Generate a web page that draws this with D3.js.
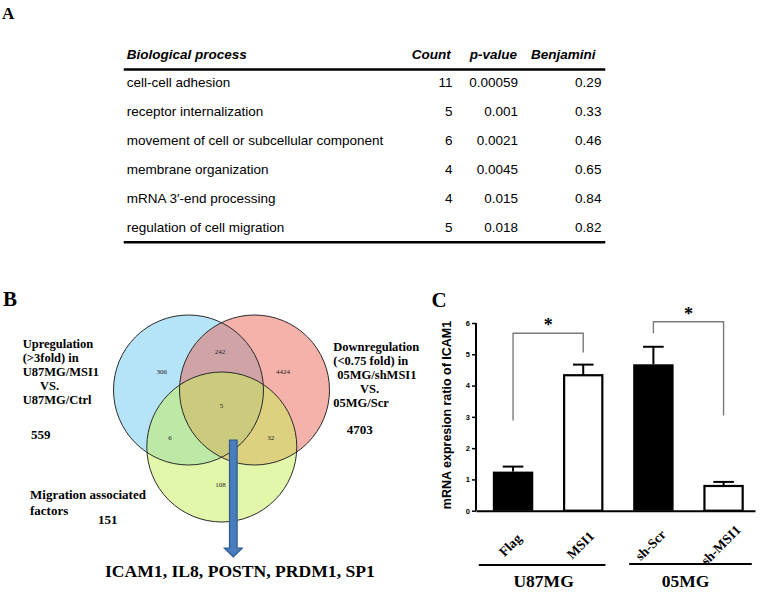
<!DOCTYPE html>
<html><head><meta charset="utf-8">
<script src="https://cdn.jsdelivr.net/npm/d3@7"></script>
<style>body{margin:0;background:#fff}svg{display:block}</style>
</head><body>
<script>
// ---------- Panel A data ----------
const tableHeaders = ["Biological process", "Count", "p-value", "Benjamini"];
const goTerms = ["cell-cell adhesion", "receptor internalization", "movement of cell or subcellular component",
                 "membrane organization", "mRNA 3\u2032-end processing", "regulation of cell migration"];
const goCounts = [11, 5, 6, 4, 4, 5];
const goPValues = ["0.00059", "0.001", "0.0021", "0.0045", "0.015", "0.018"];
const goBenjamini = ["0.29", "0.33", "0.46", "0.65", "0.84", "0.82"];

// ---------- Panel B data ----------
const vennSetNames = ["up", "down", "migration"];
const vennSetTotals = [559, 4703, 151];
const vennRegions = ["up", "up&down", "down", "all", "up&migration", "down&migration", "migration"];
const vennRegionCounts = [306, 242, 4424, 5, 6, 32, 108];
const overlapGenes = ["ICAM1", "IL8", "POSTN", "PRDM1", "SP1"];

// ---------- Panel C data ----------
const barCategories = ["Flag", "MSI1", "sh-Scr", "sh-MSI1"];
const barValues = [1.25, 4.33, 4.68, 0.79];
const barErrors = [0.16, 0.34, 0.56, 0.13];
const barFilled = [true, false, true, false];
const cellLines = ["U87MG", "05MG"];
const cellLineMembers = [["Flag", "MSI1"], ["sh-Scr", "sh-MSI1"]];
const yTicks = [0, 1, 2, 3, 4, 5, 6];
// significance brackets: [from, to], top value, left-leg bottom, right-leg bottom
const sigPairs = [["Flag", "MSI1"], ["sh-Scr", "sh-MSI1"]];
const sigTop = [5.67, 6.04];
const sigLeftEnd = [2.88, 5.67];
const sigRightEnd = [5.06, 3.04];

const W = 762, H = 592;
const serif = "'Liberation Serif','Times New Roman',serif";
const sans = "'Liberation Sans',Arial,sans-serif";

const svg = d3.select("body").append("svg").attr("width", W).attr("height", H);
svg.append("rect").attr("width", W).attr("height", H).attr("fill", "#fff");

function label(t, x, y, size, opts = {}) {
  return svg.append("text").attr("x", x).attr("y", y).text(t)
    .style("font-family", opts.family || serif)
    .style("font-size", size + "px")
    .style("font-weight", opts.weight || "bold")
    .style("font-style", opts.style || "normal")
    .attr("text-anchor", opts.anchor || "start")
    .attr("fill", opts.fill || "#000");
}

// ================= Panel A : table =================
label("A", 2, 18.5, 17);
const rowY = d3.scalePoint().domain(d3.range(goTerms.length)).range([86.7, 231.5]);
const colValueX = [126.7, 452.6, 518, 601.4];
const colHeadX = [126.7, 450.7, 517, 595.5];
const tableLeft = 123.7, tableRight = 605.3;

tableHeaders.forEach((h, i) => {
  label(h, colHeadX[i], 59.3, 13.5, { family: sans, style: "italic", anchor: i === 0 ? "start" : "end" });
});
svg.append("line").attr("x1", tableLeft).attr("x2", tableRight).attr("y1", 69.5).attr("y2", 69.5)
  .attr("stroke", "#000").attr("stroke-width", 2.6);
svg.append("line").attr("x1", tableLeft).attr("x2", tableRight).attr("y1", 242.3).attr("y2", 242.3)
  .attr("stroke", "#000").attr("stroke-width", 2.6);

const rows = goTerms.map((t, i) => [t, String(goCounts[i]), goPValues[i], goBenjamini[i]]);
rows.forEach((r, i) => {
  r.forEach((v, j) => {
    label(v, colValueX[j], rowY(i), 13.5, { family: sans, weight: "normal", anchor: j === 0 ? "start" : "end" });
  });
});

// ================= Panel B : Venn =================
label("B", 3, 306, 21);
const circles = {
  up:        { cx: 188.5, cy: 390, r: 75, fill: "#6bc7f1" },
  down:      { cx: 254.5, cy: 390, r: 75, fill: "#eb6555" },
  migration: { cx: 221.8, cy: 447, r: 75, fill: "#c5ef53" }
};
const gV = svg.append("g");
vennSetNames.forEach(n => {
  const c = circles[n];
  gV.append("circle").attr("cx", c.cx).attr("cy", c.cy).attr("r", c.r)
    .attr("fill", c.fill).attr("fill-opacity", 0.5);
});
vennSetNames.forEach(n => {
  const c = circles[n];
  gV.append("circle").attr("cx", c.cx).attr("cy", c.cy).attr("r", c.r)
    .attr("fill", "none").attr("stroke", "#2a2a2a").attr("stroke-width", 1);
});
const regionPos = {
  "up": [161.7, 371.7], "up&down": [220, 352], "down": [283, 372], "all": [221.5, 405.5],
  "up&migration": [170, 438], "down&migration": [270.7, 438], "migration": [220.5, 484.5]
};
vennRegions.forEach((reg, i) => {
  const p = regionPos[reg];
  gV.append("text").attr("x", p[0]).attr("y", p[1] + 2.4).attr("text-anchor", "middle")
    .style("font-family", serif).style("font-size", "7px").attr("fill", "#222")
    .text(vennRegionCounts[i]);
});

// set descriptions
const upLines = ["Upregulation", "(>3fold) in", "U87MG/MSI1", "VS.", "U87MG/Ctrl"];
const upX = [22.7, 22.7, 22.7, 40, 22.7];
upLines.forEach((t, i) => label(t, upX[i], 348 + i * 14, 12.5));
label(String(vennSetTotals[0]), 31, 438.5, 13);

const downLines = ["Downregulation", "(<0.75 fold) in", "05MG/shMSI1", "VS.", "05MG/Scr"];
const downX = [333.3, 333.3, 337.3, 360, 333.3];
downLines.forEach((t, i) => label(t, downX[i], 351 + i * 14, 12.5));
label(String(vennSetTotals[1]), 346.7, 434, 13);

label("Migration associated", 30, 499, 13);
label("factors", 30, 515, 13);
label(String(vennSetTotals[2]), 98, 524, 13);

// arrow
const ax = 233.3, shaftHalf = 3.8, headHalf = 9, shaftTop = 440, headBase = 548, tip = 557;
const arrowPts = [[ax - shaftHalf, shaftTop], [ax + shaftHalf, shaftTop], [ax + shaftHalf, headBase],
  [ax + headHalf, headBase], [ax, tip], [ax - headHalf, headBase], [ax - shaftHalf, headBase]];
svg.append("path").attr("d", d3.line()(arrowPts) + "Z")
  .attr("fill", "#4a7dbd").attr("stroke", "#2d5a8e").attr("stroke-width", 1.2);

label(overlapGenes.join(", "), 105, 577, 17.6);

// ================= Panel C : bar chart =================
label("C", 431.5, 307, 21);
const x = d3.scaleBand().domain(barCategories).range([476, 755])
  .paddingInner(0.424).paddingOuter(0.2).align(0.6);
const y = d3.scaleLinear().domain([0, 6]).range([510.7, 323]);
const bw = x.bandwidth();

const yAxis = d3.axisLeft(y).tickValues(yTicks).tickSize(4).tickPadding(2).tickFormat(d3.format("d"));
const gy = svg.append("g").attr("transform", "translate(476,0)").call(yAxis);
gy.select(".domain").attr("stroke-width", 2).attr("d", `M0,${y(6)}V${y(0)}`);
gy.selectAll(".tick line").attr("stroke-width", 1.5);
gy.selectAll(".tick text").style("font-family", sans).style("font-size", "7.5px").style("font-weight", "bold");

const xAxis = d3.axisBottom(x).tickSize(0).tickFormat("");
const gx = svg.append("g").attr("transform", `translate(0,${y(0)})`).call(xAxis);
gx.select(".domain").attr("stroke-width", 2);

// bars
barCategories.forEach((c, i) => {
  const filled = barFilled[i];
  const top = y(barValues[i]);
  const ex = x(c) + bw / 2;
  svg.append("line").attr("x1", ex).attr("x2", ex).attr("y1", top).attr("y2", y(barValues[i] + barErrors[i]))
    .attr("stroke", "#000").attr("stroke-width", 2);
  svg.append("line").attr("x1", ex - 10.3).attr("x2", ex + 10.3)
    .attr("y1", y(barValues[i] + barErrors[i])).attr("y2", y(barValues[i] + barErrors[i]))
    .attr("stroke", "#000").attr("stroke-width", 2);
  if (filled) {
    svg.append("rect").attr("x", x(c)).attr("y", top).attr("width", bw).attr("height", y(0) - top).attr("fill", "#000");
  } else {
    svg.append("rect").attr("x", x(c) + 1.1).attr("y", top).attr("width", bw - 2.2).attr("height", y(0) - top)
      .attr("fill", "#fff").attr("stroke", "#000").attr("stroke-width", 2.2);
  }
});

// category labels
barCategories.forEach(c => {
  svg.append("text").attr("transform", `translate(${x(c) + bw / 2 - 3},545) rotate(-45)`)
    .attr("text-anchor", "middle").attr("dy", "0.35em")
    .style("font-family", serif).style("font-size", "13.5px").style("font-weight", "bold").text(c);
});

// significance brackets
sigPairs.forEach((p, i) => {
  const x1 = x(p[0]) + bw / 2, x2 = x(p[1]) + bw / 2;
  svg.append("path")
    .attr("d", `M${x1},${y(sigLeftEnd[i])}V${y(sigTop[i])}H${x2}V${y(sigRightEnd[i])}`)
    .attr("fill", "none").attr("stroke", "#7a7a7a").attr("stroke-width", 1.4);
  svg.append("text").attr("x", (x1 + x2) / 2).attr("y", y(sigTop[i]) - 2)
    .attr("text-anchor", "middle").style("font-family", serif).style("font-size", "18px")
    .style("font-weight", "bold").text("*");
});

// group lines + names
const groupPad = [[14, 2], [4, 8]];
const groupLineY = [565, 564];
cellLines.forEach((g, i) => {
  const m = cellLineMembers[i];
  const xs = x(m[0]) - groupPad[i][0];
  const xe = x(m[m.length - 1]) + bw + groupPad[i][1];
  svg.append("line").attr("x1", xs).attr("x2", xe).attr("y1", groupLineY[i]).attr("y2", groupLineY[i])
    .attr("stroke", "#000").attr("stroke-width", 2);
  label(g, (xs + xe) / 2 + (i === 0 ? 1.5 : -5), 587, 17.5, { anchor: "middle" });
});

// y axis title
svg.append("text").attr("transform", "translate(451,415) rotate(-90)").attr("text-anchor", "middle")
  .style("font-family", sans).style("font-size", "12.5px").style("font-weight", "bold")
  .text("mRNA expresion ratio of ICAM1");
</script>
</body></html>
